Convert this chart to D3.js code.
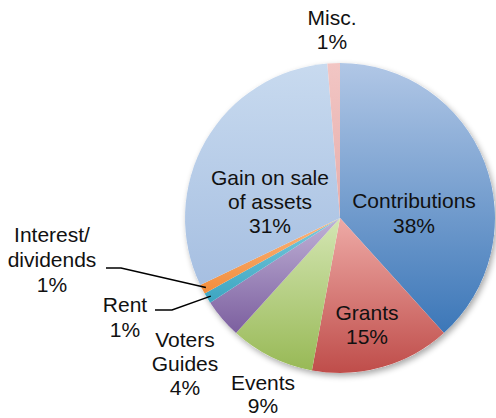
<!DOCTYPE html>
<html>
<head>
<meta charset="utf-8">
<script src="https://cdn.jsdelivr.net/npm/d3@7"></script>
<style>
  html, body { margin: 0; padding: 0; background: #fff; }
  svg { display: block; }
  text { font-family: "Liberation Sans", Arial, sans-serif; font-size: 21px; fill: #111; }
</style>
</head>
<body>
<svg id="chart" width="496" height="418"></svg>
<script>
// ---- data ----
const categories = ["Contributions", "Grants", "Events", "Voters Guides", "Rent", "Interest/dividends", "Gain on sale of assets", "Misc."];
const values = [38.3, 14.6, 8.8, 4.1, 1.1, 1.0, 30.8, 1.3];
const percentLabels = ["38%", "15%", "9%", "4%", "1%", "1%", "31%", "1%"];
const labelLines = [
  ["Contributions", "38%"],
  ["Grants", "15%"],
  ["Events", "9%"],
  ["Voters", "Guides", "4%"],
  ["Rent", "1%"],
  ["Interest/", "dividends", "1%"],
  ["Gain on sale", "of assets", "31%"],
  ["Misc.", "1%"]
];
const colorTop = ["#b1c7e6", "#eeaaa6", "#d4e6b3", "#bfb1d6", "#7ccadd", "#fab57e", "#c8daef", "#f2c6c4"];
const colorBottom = ["#3c77b8", "#bf4d4a", "#98b956", "#7c5f9f", "#3ca5c1", "#f28d3b", "#a6bfe1", "#e6adab"];

// ---- layout (not data) ----
const cx = 340, cy = 218, R = 155;
const labelPos = [
  {x: 414, y: 208, dy: 25},
  {x: 367, y: 320, dy: 24},
  {x: 263, y: 390, dy: 23},
  {x: 185, y: 347, dy: 24},
  {x: 125, y: 312, dy: 25},
  {x: 52, y: 242, dy: 25},
  {x: 270, y: 185, dy: 24},
  {x: 332, y: 25, dy: 24}
];

const svg = d3.select("#chart");
const defs = svg.append("defs");

const shadow = defs.append("filter").attr("id", "shadow")
  .attr("x", "-20%").attr("y", "-20%").attr("width", "140%").attr("height", "140%");
shadow.append("feGaussianBlur").attr("in", "SourceAlpha").attr("stdDeviation", 3);
shadow.append("feOffset").attr("dx", 2).attr("dy", 3).attr("result", "ob");
shadow.append("feComponentTransfer").append("feFuncA").attr("type", "linear").attr("slope", 0.35);
const merge = shadow.append("feMerge");
merge.append("feMergeNode");
merge.append("feMergeNode").attr("in", "SourceGraphic");

categories.forEach((c, i) => {
  const g = defs.append("linearGradient").attr("id", "grad" + i)
    .attr("x1", 0).attr("y1", 0).attr("x2", 0).attr("y2", 1);
  g.append("stop").attr("offset", "0%").attr("stop-color", colorTop[i]);
  g.append("stop").attr("offset", "100%").attr("stop-color", colorBottom[i]);
});

const pie = d3.pie().sort(null).value(d => d);
const arcs = pie(values);
const arc = d3.arc().innerRadius(0).outerRadius(R);

const gPie = svg.append("g").attr("transform", `translate(${cx},${cy})`);

// shadow base
gPie.append("circle").attr("r", R).attr("fill", "#fff").attr("filter", "url(#shadow)");

gPie.selectAll("path.slice").data(arcs).enter().append("path")
  .attr("class", "slice")
  .attr("d", arc)
  .attr("fill", (d, i) => `url(#grad${i})`);

// leader lines for small slices (Rent, Interest/dividends)
const leaderArc = d3.arc().innerRadius(R - 4).outerRadius(R - 4);
const leaders = [
  {i: 5, start: [106, 268], elbow: [121, 268]},
  {i: 4, start: [155, 310], elbow: [172, 310]}
];
leaders.forEach(l => {
  const c = leaderArc.centroid(arcs[l.i]);
  const end = [cx + c[0], cy + c[1]];
  svg.append("path")
    .attr("d", d3.line()([l.start, l.elbow, end]))
    .attr("fill", "none").attr("stroke", "#000").attr("stroke-width", 1.5);
});

// labels
labelLines.forEach((lines, i) => {
  const p = labelPos[i];
  const t = svg.append("text").attr("text-anchor", "middle");
  lines.forEach((ln, k) => {
    t.append("tspan").attr("x", p.x).attr("y", p.y + k * p.dy).text(ln);
  });
});
</script>
</body>
</html>
